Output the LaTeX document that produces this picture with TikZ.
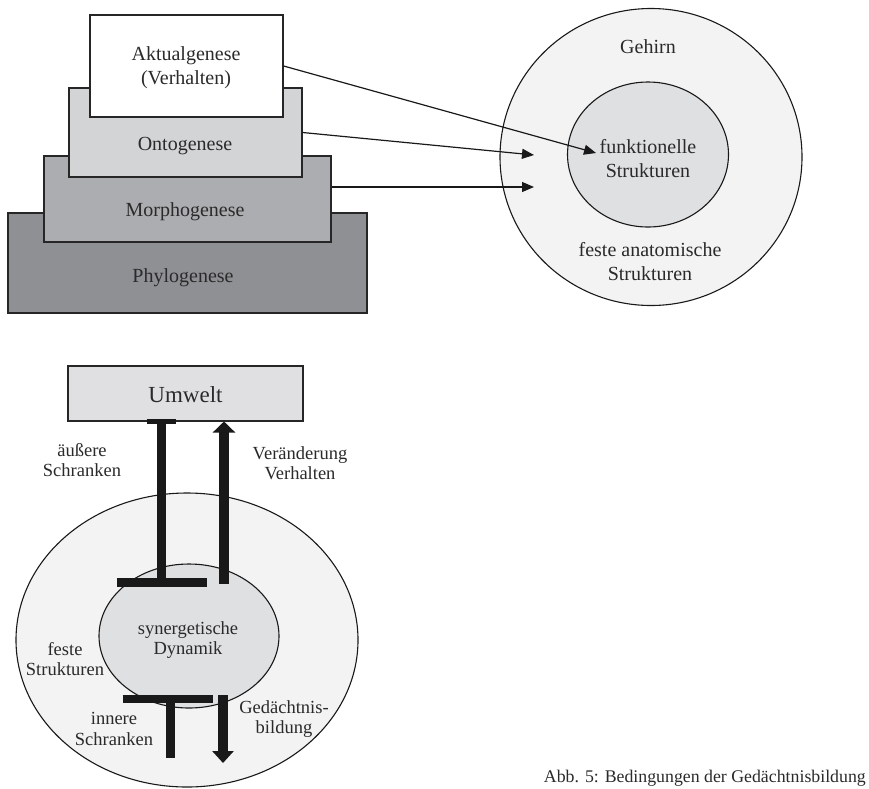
\documentclass[tikz,border=0pt]{standalone}
\usepackage{fontspec}
\setmainfont{Liberation Serif}
\usetikzlibrary{shapes.geometric,arrows.meta}
\definecolor{txt}{HTML}{2A2A2A}
\definecolor{cphylo}{HTML}{8F9094}
\definecolor{cmorph}{HTML}{ACADB0}
\definecolor{conto}{HTML}{D3D4D6}
\definecolor{cumw}{HTML}{E0E0E2}
\definecolor{couter}{HTML}{F3F3F3}
\definecolor{cinner}{HTML}{DFE0E2}
\tikzset{
  layer/.style={draw=black!85, line width=1.3pt, inner sep=0pt},
  lbl/.style={text=txt, align=center, inner sep=0pt, font=\fontsize{20}{24}\selectfont},
  slbl/.style={text=txt, align=center, inner sep=0pt, font=\fontsize{18.5}{20.5}\selectfont},
  oval/.style={ellipse, draw=black!90, line width=1.1pt, inner sep=0pt},
  conn/.style={draw=black!90, line width=1.2pt, -{Triangle[length=12pt,width=10pt]}},
  thick bar/.style={draw=black!90, line width=8.5pt},
}
\begin{document}
\begin{tikzpicture}[x=1pt,y=-1pt]
\useasboundingbox (0,0) rectangle (869,788);
% pyramid
\node[layer, fill=cphylo, minimum width=359pt, minimum height=100pt] (phylo) at (187.5,263) {};
\node[layer, fill=cmorph, minimum width=287pt, minimum height=86pt] (morph) at (187.5,199) {};
\node[layer, fill=conto, minimum width=233pt, minimum height=89pt] (onto) at (185.5,132.5) {};
\node[layer, fill=white, minimum width=193pt, minimum height=102pt] (akt) at (186.5,66) {};
\node[lbl] (takt) at (186,68) {Aktualgenese\\(Verhalten)};
\node[lbl] (tonto) at (185,146) {Ontogenese};
\node[lbl] (tmorph) at (185,212) {Morphogenese};
\node[lbl] (tphylo) at (183,278) {Phylogenese};
% brain
\node[oval, fill=couter, minimum width=302pt, minimum height=297pt] (gehirn) at (651,157) {};
\node[oval, fill=cinner, minimum width=161pt, minimum height=145pt] (funk) at (648,154.5) {};
\node[lbl] (tgeh) at (648,47) {Gehirn};
\node[lbl] (tfunk) at (648,159) {funktionelle\\Strukturen};
\node[lbl] (tfeste) at (650,262) {feste anatomische\\Strukturen};
% connectors
\coordinate (s3) at (331.5,187);
\coordinate (t1) at (596,153);
\coordinate (t2) at (534,155);
\coordinate (t3) at (534,187);
\draw[conn] (akt.east) -- (t1);
\draw[conn] (onto.east) -- (t2);
\draw[conn] (s3) -- (t3);
% bottom figure
\node[layer, fill=cumw, minimum width=235pt, minimum height=55pt] (umwelt) at (185.5,393.5) {};
\node[text=txt, inner sep=0pt, font=\fontsize{23}{26}\selectfont] (tumw) at (185.5,395) {Umwelt};
\node[oval, fill=couter, minimum width=342pt, minimum height=294pt] (outer) at (187,640) {};
\node[oval, fill=cinner, minimum width=180pt, minimum height=144pt] (syn) at (189,636) {};
\coordinate (a1) at (161.5,421);
\coordinate (a2) at (161.5,582.5);
\coordinate (a3) at (117,582.5);
\coordinate (a4) at (207,582.5);
\coordinate (a5) at (147,421);
\coordinate (a6) at (176,421);
\draw[thick bar] (a1) -- (a2);
\draw[thick bar] (a3) -- (a4);
\draw[draw=black!90, line width=5pt] (a5) -- (a6);
\coordinate (b1) at (224,584);
\coordinate (b2) at (224,421.5);
\draw[thick bar, line width=10pt, -{Triangle[length=11pt,width=22pt]}] (b1) -- (b2);
\coordinate (c1) at (122.7,699);
\coordinate (c2) at (212.7,699);
\coordinate (c3) at (170.5,699);
\coordinate (c4) at (170.5,758);
\draw[thick bar] (c1) -- (c2);
\draw[thick bar, line width=9pt] (c3) -- (c4);
\coordinate (d1) at (223,695);
\coordinate (d2) at (223,763);
\draw[thick bar, line width=10pt, -{Triangle[length=12pt,width=21pt]}] (d1) -- (d2);
\node[slbl] (taus) at (82,460) {äußere\\Schranken};
\node[slbl] (tver) at (300,463) {Veränderung\\Verhalten};
\node[slbl] (tsyn) at (188,640) {synergetische\\Dynamik};
\node[slbl] (tfest) at (65,659) {feste\\Strukturen};
\node[slbl] (tinn) at (114,729) {innere\\Schranken};
\node[slbl] (tged) at (284,719) {Gedächtnis-\\bildung};
\node[text=txt, inner sep=0pt, anchor=base east, font=\fontsize{17.8}{21}\selectfont] (cap) at (866,782) {Abb. 5: Bedingungen der Gedächtnisbildung};
\end{tikzpicture}
\end{document}
